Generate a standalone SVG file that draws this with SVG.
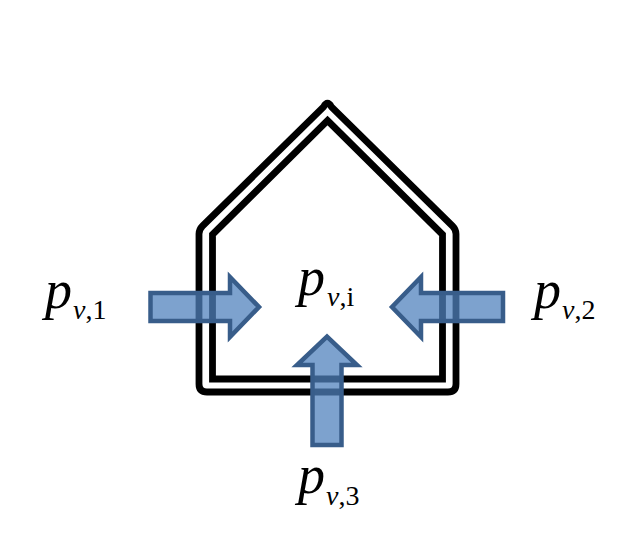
<svg xmlns="http://www.w3.org/2000/svg" width="642" height="548" viewBox="0 0 642 548">
<style>
.wall{fill:none;stroke:#000;stroke-width:6.8;stroke-linejoin:miter;stroke-miterlimit:10}
.arrow{fill:#4F81BD;fill-opacity:.74;stroke:#385D8A;stroke-width:4.5;stroke-linejoin:miter}
text{font-family:"Liberation Serif","Times New Roman",serif;fill:#000}
.p{font-size:54px;font-style:italic}
.s{font-size:28px;font-style:italic}
.n{font-size:28px;font-style:normal}
</style>
<rect width="642" height="548" fill="#fff"/>
<g id="house">
<path class="wall" d="M323.500 107Q327.500 99.500 331.500 107L452.500 226Q456 229.500 456 234V384Q456 392 448 392H207Q199 392 199 384V234Q199 229.500 202.500 226Z"/>
<path class="wall" d="M327.500 120.500L442.500 234.500V379H212.500V234.500Z"/>
</g>
<g id="connectors">
<path id="arrow1" class="arrow" d="M150.500 293H230V277L259 307L230 337V321H150.500Z"/>
<path id="arrow2" class="arrow" d="M503 293H421V277L392 307L421 337V321H503Z"/>
<path id="arrow3" class="arrow" d="M312.500 445V365H297L327 336.500L357 365H341.500V445Z"/>
</g>
<g id="label-p1"><text class="p" x="45" y="308">p</text><text class="s" x="73" y="319">v<tspan class="n">,1</tspan></text></g>
<g id="label-pi"><text class="p" x="298" y="295">p</text><text class="s" x="327" y="306">v<tspan class="n">,i</tspan></text></g>
<g id="label-p2"><text class="p" x="534" y="308">p</text><text class="s" x="562" y="319">v<tspan class="n">,2</tspan></text></g>
<g id="label-p3"><text class="p" x="298" y="493">p</text><text class="s" x="326" y="505">v<tspan class="n">,3</tspan></text></g>
</svg>
